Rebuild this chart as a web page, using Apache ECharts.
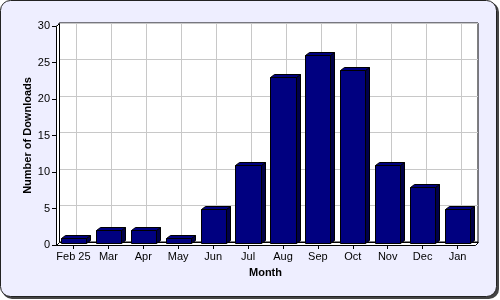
<!DOCTYPE html>
<html><head><meta charset="utf-8">
<script src="https://cdn.jsdelivr.net/npm/echarts@6/dist/echarts.min.js"></script>
<style>html,body{margin:0;padding:0;background:#fff}#c{width:500px;height:300px}</style>
</head><body><div id="c"></div>
<script>
const categories = ['Feb 25','Mar','Apr','May','Jun','Jul','Aug','Sep','Oct','Nov','Dec','Jan'];
const downloads = [1,2,2,1,5,11,23,26,24,11,8,5];
const yTicks = [0,5,10,15,20,25,30];

const DX = 3, DY = 3;      // plot depth
const BDX = 4, BDY = 3;    // bar depth
const FONT = 'Liberation Sans, Arial, sans-serif';

const chart = echarts.init(document.getElementById('c'), null, {renderer:'canvas'});

function barItem(params, api){
  const idx = api.value(0), v = api.value(1);
  const top = api.coord([idx, v]);
  const base = api.coord([idx, 0]);
  const bw = api.size([1,0])[0]*0.72;
  const l = Math.round(top[0]-bw/2)+0.5, r = Math.round(top[0]+bw/2)+0.5;
  const t = Math.round(top[1])+0.5, b = Math.round(base[1])-1.5;
  return {type:'group', children:[
    {type:'polygon', shape:{points:[[r,b],[r,t],[r+BDX,t-BDY],[r+BDX,b-BDY]]},
      style:{fill:'#00004a', stroke:'#000', lineWidth:1}},
    {type:'polygon', shape:{points:[[l,t],[l+BDX,t-BDY],[r+BDX,t-BDY],[r,t]]},
      style:{fill:'#000080', stroke:'#000', lineWidth:1}},
    {type:'rect', shape:{x:l,y:t,width:r-l,height:b-t},
      style:{fill:'#000080', stroke:'#000', lineWidth:1}}
  ]};
}

function vGridItem(params, api){
  const c = api.coord([api.value(0), 30]);
  const b = api.coord([api.value(0), 0]);
  const x = Math.round(c[0]) + DX + 0.5;
  return {type:'line', shape:{x1:x, y1:c[1]-DY, x2:x, y2:b[1]-DY},
    style:{stroke:'#c8c8c8', lineWidth:1}};
}

function floorItem(params, api){
  const cs = params.coordSys;
  const x0 = cs.x + 0.5, x1 = cs.x + cs.width + 0.5;
  const y0 = cs.y + 0.5, y1 = cs.y + cs.height + 0.5;
  return {type:'group', children:[
    {type:'polygon', shape:{points:[[x0,y1],[x0+DX,y1-DY],[x1+DX,y1-DY],[x1,y1]]},
      style:{fill:'#fff', stroke:'#000', lineWidth:1}},
    {type:'polygon', shape:{points:[[x0,y1],[x0,y0],[x0+DX,y0-DY],[x0+DX,y1-DY]]},
      style:{fill:'#fff', stroke:'#000', lineWidth:1}}
  ]};
}

const G = {left:56, right:25, top:26, bottom:55};

chart.setOption({
  animation:false,
  backgroundColor:'transparent',
  graphic:[
    {type:'rect', z:-10, shape:{x:2,y:2,width:497,height:297,r:10}, style:{fill:'#444'}},
    {type:'rect', z:-9, shape:{x:0.5,y:0.5,width:496,height:296,r:10}, style:{fill:'#eeeeff', stroke:'#222', lineWidth:1}}
  ],
  grid:[
    {left:G.left+DX, right:G.right-DX, top:G.top-DY, bottom:G.bottom+DY, show:true,
      backgroundColor:'#fff', borderColor:'#000', borderWidth:1, z:0},
    {left:G.left, right:G.right, top:G.top, bottom:G.bottom}
  ],
  xAxis:[
    {gridIndex:0, type:'category', data:categories, show:false},
    {gridIndex:1, type:'category', data:categories,
      axisLine:{show:true, lineStyle:{color:'#000', width:1}},
      axisTick:{show:true, alignWithLabel:true, length:4, lineStyle:{color:'#000'}},
      axisLabel:{color:'#000', fontSize:11, fontFamily:FONT, margin:6, interval:0},
      name:'Month', nameLocation:'middle', nameGap:22,
      nameTextStyle:{color:'#000', fontSize:11, fontWeight:'bold', fontFamily:FONT},
      splitLine:{show:false}}
  ],
  yAxis:[
    {gridIndex:0, type:'value', min:0, max:30, interval:5,
      axisLine:{show:false}, axisTick:{show:false}, axisLabel:{show:false},
      splitLine:{show:true, lineStyle:{color:'#c8c8c8', width:1}}},
    {gridIndex:1, type:'value', min:0, max:30, interval:5,
      axisLine:{show:true, lineStyle:{color:'#000'}},
      axisTick:{show:true, length:4, lineStyle:{color:'#000'}},
      axisLabel:{color:'#000', fontSize:11, fontFamily:FONT, margin:6,
        formatter: v => yTicks.includes(v) ? String(v) : ''},
      name:'Number of Downloads', nameLocation:'middle', nameGap:23, nameMoveOverlap:false,
      nameTextStyle:{color:'#000', fontSize:11, fontWeight:'bold', fontFamily:FONT},
      splitLine:{show:false}}
  ],
  series:[
    {type:'custom', xAxisIndex:1, yAxisIndex:1, z:1, silent:true,
      data:categories.map((c,i)=>[i,0]), renderItem:vGridItem},
    {type:'custom', xAxisIndex:1, yAxisIndex:1, z:2, silent:true,
      data:[[0,0]], renderItem:floorItem},
    {type:'custom', xAxisIndex:1, yAxisIndex:1, z:3,
      data:downloads.map((v,i)=>[i,v]), renderItem:barItem}
  ]
});
</script></body></html>
